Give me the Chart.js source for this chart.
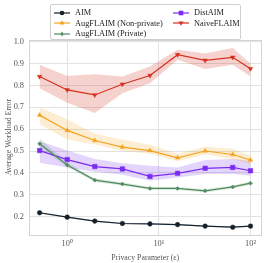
<!DOCTYPE html>
<html><head><meta charset="utf-8">
<script src="https://cdn.jsdelivr.net/npm/chart.js@4.4.1/dist/chart.umd.min.js"></script>
<style>
html,body{margin:0;padding:0;background:#fff;}
#wrap{position:relative;width:266px;height:263px;}
#legend{position:absolute;left:50px;top:4px;width:191px;height:36px;border:1px solid #cfcfcf;border-radius:2px;background:rgba(255,255,255,0.9);font-family:"Liberation Serif",serif;font-size:8.3px;color:#222;box-sizing:border-box;}
.item{position:absolute;display:flex;align-items:center;white-space:nowrap;}
.item svg{margin-right:5px;}
</style></head>
<body><div id="wrap"><canvas id="c" width="266" height="263"></canvas><div id="legend"></div></div>
<script>
const epsilons = [0.5, 1, 2, 4, 8, 16, 32, 64, 100];
const seriesNames = ['AIM', 'AugFLAIM (Non-private)', 'AugFLAIM (Private)', 'DistAIM', 'NaiveFLAIM'];
const aim      = [0.218, 0.198, 0.180, 0.169, 0.167, 0.164, 0.157, 0.152, 0.157];
const aimLo    = [0.214, 0.195, 0.177, 0.166, 0.164, 0.161, 0.154, 0.149, 0.154];
const aimHi    = [0.222, 0.201, 0.183, 0.172, 0.170, 0.167, 0.160, 0.155, 0.160];
const augNP    = [0.664, 0.594, 0.548, 0.518, 0.502, 0.469, 0.500, 0.484, 0.459];
const augNPLo  = [0.622, 0.553, 0.530, 0.500, 0.488, 0.453, 0.484, 0.462, 0.440];
const augNPHi  = [0.700, 0.644, 0.579, 0.552, 0.529, 0.487, 0.521, 0.510, 0.479];
const augP     = [0.533, 0.436, 0.367, 0.349, 0.329, 0.329, 0.318, 0.336, 0.353];
const augPLo   = [0.516, 0.427, 0.359, 0.342, 0.322, 0.322, 0.311, 0.329, 0.345];
const augPHi   = [0.556, 0.447, 0.375, 0.357, 0.336, 0.336, 0.325, 0.343, 0.361];
const distAIM  = [0.502, 0.461, 0.429, 0.418, 0.384, 0.398, 0.421, 0.425, 0.410];
const distLo   = [0.446, 0.425, 0.405, 0.392, 0.364, 0.379, 0.395, 0.395, 0.387];
const distHi   = [0.545, 0.502, 0.464, 0.444, 0.433, 0.425, 0.459, 0.464, 0.456];
const naive    = [0.840, 0.779, 0.756, 0.805, 0.845, 0.940, 0.914, 0.928, 0.876];
const naiveLo  = [0.787, 0.720, 0.674, 0.764, 0.810, 0.917, 0.874, 0.894, 0.840];
const naiveHi  = [0.894, 0.843, 0.851, 0.840, 0.886, 0.963, 0.945, 0.971, 0.900];
const yTicks = [0.2, 0.3, 0.4, 0.5, 0.6, 0.7, 0.8, 0.9, 1.0];
const xTicks = [1, 10, 100];
const xTickLabels = ['10\u2070', '10\u00b9', '10\u00b2'];

const colors = ['#15212c', '#f5a31f', '#4f8c5f', '#7a2cf2', '#d7301f'];
const bands = ['rgba(21,33,44,0.2)', 'rgba(245,163,31,0.2)', 'rgba(79,140,95,0.2)', 'rgba(122,44,242,0.2)', 'rgba(215,48,31,0.22)'];
const markers = [
  {style:'circle', r:2.3, rot:0},
  {style:'triangle', r:2.6, rot:0},
  {style:'rectRot', r:2.0, rot:0},
  {style:'rect', r:3.2, rot:0},
  {style:'triangle', r:2.6, rot:180}
];
const means = [aim, augNP, augP, distAIM, naive];
const lows = [aimLo, augNPLo, augPLo, distLo, naiveLo];
const highs = [aimHi, augNPHi, augPHi, distHi, naiveHi];
const pts = arr => arr.map((v, i) => ({x: epsilons[i], y: v}));

const datasets = [];
for (let s = 0; s < 5; s++) {
  datasets.push({data: pts(lows[s]), borderWidth: 0, pointRadius: 0, fill: false, borderColor: 'transparent', order: 10});
  datasets.push({data: pts(highs[s]), borderWidth: 0, pointRadius: 0, fill: '-1', backgroundColor: bands[s], borderColor: 'transparent', order: 10});
  datasets.push({label: seriesNames[s], data: pts(means[s]), borderColor: colors[s], backgroundColor: colors[s], borderWidth: 1.2,
    pointStyle: markers[s].style, pointRadius: markers[s].r, pointRotation: markers[s].rot, pointBorderWidth: 0.5, fill: false, order: 1});
}

const frame = {id: 'frame', beforeDatasetsDraw(chart) {
  const a = chart.chartArea, ctx = chart.ctx;
  ctx.save(); ctx.strokeStyle = '#d4d4d4'; ctx.lineWidth = 1;
  ctx.strokeRect(Math.round(a.left) + 0.5, Math.round(a.top) + 0.5, Math.round(a.right - a.left) - 1, Math.round(a.bottom - a.top));
  ctx.restore();
}};

const font = {family: '"Liberation Serif", serif', size: 8.3};
const tfont = {family: '"Liberation Serif", serif', size: 7.8};
new Chart(document.getElementById('c'), {
  type: 'line',
  data: {datasets},
  plugins: [frame],
  options: {
    responsive: false, animation: false, devicePixelRatio: 1,
    layout: {padding: {top: 40, right: 4, left: 4, bottom: 0}},
    plugins: {legend: {display: false}, tooltip: {enabled: false}},
    elements: {line: {tension: 0}},
    scales: {
      x: {type: 'logarithmic', min: 0.383, max: 131.8,
        afterBuildTicks: sc => { sc.ticks = xTicks.map(v => ({value: v})); },
        afterFit: sc => { sc.height = 28.5; },
        ticks: {font, color: '#555', padding: 4, maxRotation: 0, autoSkip: false,
          callback: (v) => { const i = xTicks.indexOf(v); return i >= 0 ? xTickLabels[i] : ''; }},
        grid: {color: '#e2e2e2', drawTicks: false, lineWidth: 1},
        border: {display: false},
        title: {display: true, text: 'Privacy Parameter (\u03b5)', font: tfont, color: '#555', padding: {top: 3, bottom: 0}}
      },
      y: {min: 0.1187, max: 1.007,
        afterBuildTicks: sc => { sc.ticks = yTicks.map(v => ({value: v})); },
        afterFit: sc => { sc.width = 25; },
        ticks: {font, color: '#555', padding: 5, callback: v => v.toFixed(1)},
        grid: {color: '#e2e2e2', drawTicks: false, lineWidth: 1},
        border: {display: false},
        title: {display: true, text: 'Average Workload Error', font: tfont, color: '#555', padding: {top: 0, bottom: 1}}
      }
    }
  }
});

// HTML legend built from the series definitions
function markerSvg(s) {
  const c = colors[s];
  let shape = '';
  const cx = 8, cy = 4;
  if (s === 0) shape = `<circle cx="${cx}" cy="${cy}" r="2.3" fill="${c}"/>`;
  else if (s === 1) shape = `<polygon points="${cx},${cy-2.8} ${cx+2.6},${cy+1.6} ${cx-2.6},${cy+1.6}" fill="${c}"/>`;
  else if (s === 2) shape = `<polygon points="${cx},${cy-2.6} ${cx+1.6},${cy} ${cx},${cy+2.6} ${cx-1.6},${cy}" fill="${c}"/>`;
  else if (s === 3) shape = `<rect x="${cx-2.3}" y="${cy-2.3}" width="4.6" height="4.6" fill="${c}"/>`;
  else shape = `<polygon points="${cx},${cy+2.8} ${cx+2.6},${cy-1.6} ${cx-2.6},${cy-1.6}" fill="${c}"/>`;
  return `<svg width="16" height="8" viewBox="0 0 16 8"><line x1="0" y1="4" x2="16" y2="4" stroke="${c}" stroke-width="1.2"/>${shape}</svg>`;
}
const legendPos = [[3, 3], [3, 13.7], [3, 24.4], [122, 3], [122, 13.7]];
const lg = document.getElementById('legend');
seriesNames.forEach((n, s) => {
  const d = document.createElement('div');
  d.className = 'item';
  d.style.left = legendPos[s][0] + 'px';
  d.style.top = legendPos[s][1] + 'px';
  d.innerHTML = markerSvg(s) + '<span>' + n + '</span>';
  lg.appendChild(d);
});
</script></body></html>
